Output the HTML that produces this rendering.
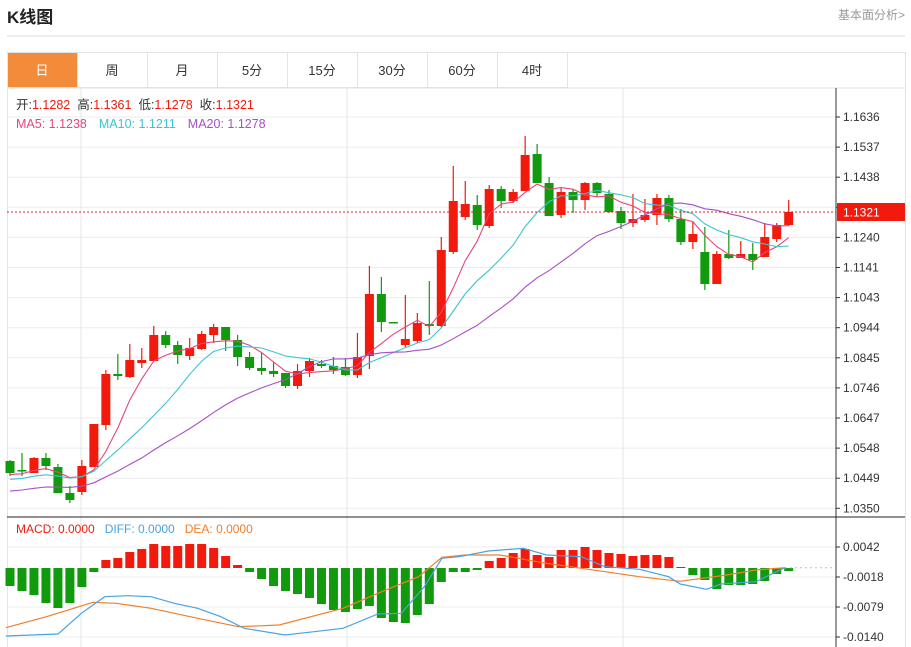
<!DOCTYPE html>
<html><head><meta charset="utf-8"><style>
body{margin:0;background:#fff;width:911px;height:647px;overflow:hidden;font-family:"Liberation Sans","Noto Sans CJK SC",sans-serif}
svg{position:absolute;left:0;top:0}
</style></head><body>
<svg id="s" width="911" height="647" xmlns="http://www.w3.org/2000/svg" font-family="Liberation Sans, Noto Sans CJK SC, sans-serif"></svg>
<script>
const s=document.getElementById('s');let h='';
h+='<text x="7" y="23" font-size="17" font-weight="bold" fill="#222">K线图</text>';
h+='<text x="905" y="19" font-size="12" fill="#999" text-anchor="end">基本面分析&gt;</text>';
h+='<line x1="7" y1="36" x2="905" y2="36" stroke="#ddd"/>';
h+='<rect x="7.5" y="52.5" width="898" height="600" fill="none" stroke="#e3e3e3"/>';
const tabs=['日','周','月','5分','15分','30分','60分','4时'];
tabs.forEach((t,i)=>{const x=7+i*70;
 h+=`<rect x="${x+.5}" y="52.5" width="70" height="35" fill="${i?'#fff':'#f28c3b'}" stroke="#e3e3e3"/>`;
 h+=`<text x="${x+35}" y="75" font-size="13" text-anchor="middle" fill="${i?'#333':'#fff'}">${t}</text>`;});
h+='<line x1="7" y1="88" x2="905" y2="88" stroke="#e3e3e3"/>';
const ticks=['1.1636','1.1537','1.1438','1.1339','1.1240','1.1141','1.1043','1.0944','1.0845','1.0746','1.0647','1.0548','1.0449','1.0350'];
ticks.forEach((t,i)=>{const y=117+i*30.1;
 h+=`<line x1="7" y1="${y}" x2="836" y2="${y}" stroke="#ececec"/>`;
 h+=`<line x1="836" y1="${y}" x2="840" y2="${y}" stroke="#333"/>`;
 if(i!=3)h+=`<text x="843" y="${y+4}" font-size="12" fill="#333">${t}</text>`;});
const mt=['0.0042','-0.0018','-0.0079','-0.0140'];
mt.forEach((t,i)=>{const y=547+i*30;
 h+=`<line x1="7" y1="${y}" x2="836" y2="${y}" stroke="#ececec"/>`;
 h+=`<line x1="836" y1="${y}" x2="840" y2="${y}" stroke="#333"/>`;
 h+=`<text x="843" y="${y+4}" font-size="12" fill="#333">${t}</text>`;});
[81,347,623].forEach(x=>h+=`<line x1="${x}" y1="88" x2="${x}" y2="647" stroke="#e6e6e6"/>`);
h+='<line x1="836" y1="88" x2="836" y2="647" stroke="#333"/>';
h+='<line x1="7" y1="517" x2="905" y2="517" stroke="#222"/>';
const C=[[461,473,476,460],[470,471,476,453],[473,458,473,457],[458,466,470,453],[467,493,493,464],[493,500,503,486],[492,466,495,460],[467,424,467,424],[425,374,430,370],[374,376,380,354],[377,360,378,344],[363,360,368,348],[361,335,361,326],[335,345,348,331],[345,355,364,341],[356,348,360,338],[349,334,350,331],[335,327,343,324],[327,340,351,327],[340,357,366,335],[357,368,370,352],[368,371,375,353],[371,374,377,362],[373,386,388,373],[386,371,389,364],[371,361,377,358],[364,366,368,360],[366,370,374,357],[367,375,376,358],[375,357,378,333],[356,294,369,266],[294,322,332,277],[322,323,323,322],[345,339,347,295],[341,323,343,313],[324,326,335,281],[326,250,327,237],[252,201,254,166],[217,204,220,181],[205,225,230,195],[226,189,228,185],[189,201,208,186],[201,192,203,189],[191,155,191,136],[154,183,183,144],[183,216,216,177],[215,192,218,188],[192,200,213,189],[200,183,210,182],[183,193,197,182],[194,212,213,190],[211,223,229,207],[223,219,227,194],[220,215,222,199],[215,198,225,194],[198,219,222,195],[219,242,245,209],[242,234,249,222],[252,284,290,227],[284,254,284,251],[254,258,259,230],[258,254,258,241],[254,260,270,243],[257,237,257,223],[239,225,242,223],[225,212,226,200]];
const X=i=>10+i*11.98;
const closes=C.map(c=>c[1]);
function ma(n,pad){return closes.map((_,i)=>{let sum=0;for(let k=i-n+1;k<=i;k++)sum+=k>=0?closes[k]:pad;return sum/n;});}
function pl(arr,col){return `<polyline fill="none" stroke="${col}" stroke-width="1.1" points="${arr.map((v,i)=>X(i).toFixed(1)+','+v.toFixed(1)).join(' ')}"/>`;}
C.forEach((c,i)=>{const x=X(i);const col=c[1]<=c[0]?'#f21a0c':'#119a0e';
 h+=`<line x1="${x}" y1="${c[2]}" x2="${x}" y2="${c[3]}" stroke="${col}" stroke-width="1.2"/>`;
 const t=Math.min(c[0],c[1]),b=Math.max(c[0],c[1]);
 h+=`<rect x="${x-4.5}" y="${t}" width="9" height="${Math.max(b-t,1.5)}" fill="${col}"/>`;});
h+=pl(ma(5,475),'#e8457a')+pl(ma(10,480),'#3cc4d4')+pl(ma(20,492),'#a94fc4');
h+='<line x1="7" y1="212" x2="836" y2="212" stroke="#e02020" stroke-dasharray="2,2"/>';
h+='<rect x="837" y="203" width="68" height="18" fill="#f21a0c"/><text x="843" y="216.5" font-size="12" fill="#fff">1.1321</text>';
h+='<text x="16" y="109" font-size="12.5"><tspan fill="#333">开:</tspan><tspan fill="#f21a0c">1.1282</tspan><tspan fill="#333" dx="7">高:</tspan><tspan fill="#f21a0c">1.1361</tspan><tspan fill="#333" dx="7">低:</tspan><tspan fill="#f21a0c">1.1278</tspan><tspan fill="#333" dx="7">收:</tspan><tspan fill="#f21a0c">1.1321</tspan></text>';
h+='<text x="16" y="128" font-size="12.5"><tspan fill="#e8457a">MA5: 1.1238</tspan><tspan fill="#3cc4d4" dx="12">MA10: 1.1211</tspan><tspan fill="#a94fc4" dx="12">MA20: 1.1278</tspan></text>';
h+='<text x="16" y="533" font-size="12"><tspan fill="#f21a0c">MACD: 0.0000</tspan><tspan fill="#4aa3e0" dx="10">DIFF: 0.0000</tspan><tspan fill="#f07f2a" dx="10">DEA: 0.0000</tspan></text>';
const M=[18,23,27,35,40,35,19,4,-8,-10,-16,-19,-24,-22,-22,-24,-24,-20,-12,-3,4,11,18,23,26,30,36,42,44,41,38,50,54,55,47,36,14,4,4,2,-7,-10,-15,-19,-13,-11,-18,-18,-21,-18,-15,-14,-12,-13,-13,-11,-1,7,12,21,17,17,16,13,6,3];
const Z=568;
M.forEach((v,i)=>{const x=X(i);const col=v<0?'#f21a0c':'#119a0e';
 h+=`<rect x="${x-4.5}" y="${v<0?Z+v:Z}" width="9" height="${Math.abs(v)}" fill="${col}"/>`;});
const D=[[10,588],[100,582],[140,520],[180,470],[220,467],[260,470],[300,490],[340,505],[380,530],[420,565],[490,585],[540,575],[590,565],[650,522],[690,520],[730,440],[760,355],[790,350],[840,333],[900,325],[940,345],[1000,350],[1040,380],[1100,388],[1150,410],[1170,432],[1215,448],[1240,432],[1300,425],[1350,383]];
const E=[[10,563],[80,530],[160,487],[200,490],[260,505],[340,535],[410,560],[480,555],[590,505],[650,460],[720,410],[760,352],[800,345],[860,345],[940,370],[1000,385],[1100,410],[1170,424],[1250,405],[1300,390],[1350,383]];
const cv=a=>a.map(p=>(p[0]/1.72).toFixed(1)+','+(p[1]/3+440).toFixed(1)).join(' ');
h+=`<polyline fill="none" stroke="#f07f2a" stroke-width="1.2" points="${cv(E)}"/>`;
h+=`<polyline fill="none" stroke="#4aa3e0" stroke-width="1.2" points="${cv(D)}"/>`;
h+='<line x1="785" y1="567.7" x2="832" y2="567.7" stroke="#9cc9ee" stroke-dasharray="2,3"/>';
s.innerHTML=h;
</script>
</body></html>
